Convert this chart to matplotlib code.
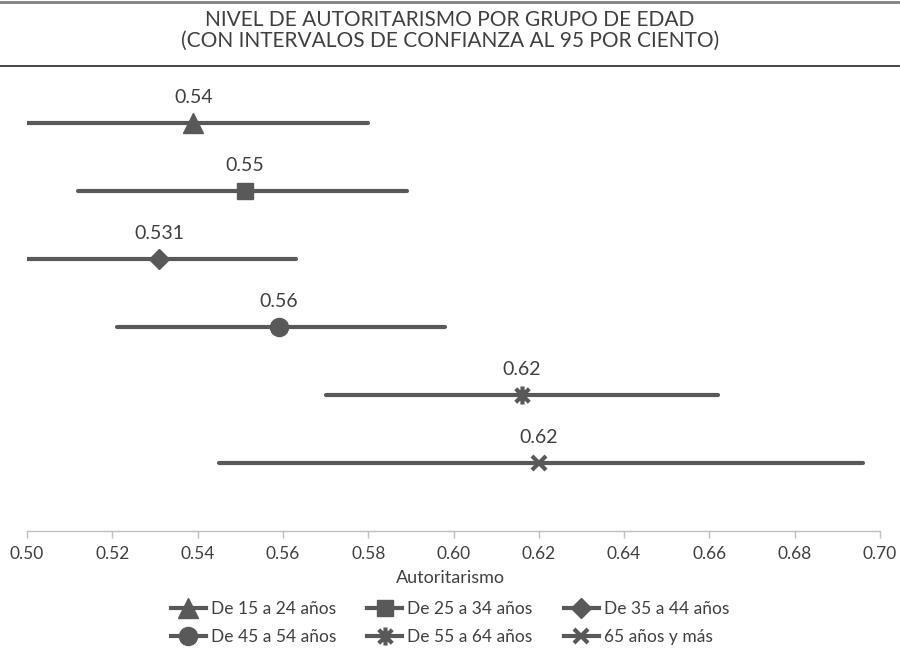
import matplotlib
matplotlib.use("Agg")
import matplotlib.pyplot as plt
from matplotlib.lines import Line2D
from matplotlib.path import Path

# Age groups, point estimates and 95% confidence bounds
groups = ["De 15 a 24 años", "De 25 a 34 años", "De 35 a 44 años",
          "De 45 a 54 años", "De 55 a 64 años", "65 años y más"]
means = [0.539, 0.551, 0.531, 0.559, 0.616, 0.620]
lower = [0.500, 0.512, 0.500, 0.521, 0.570, 0.545]
upper = [0.580, 0.589, 0.563, 0.598, 0.662, 0.696]
value_labels = ["0.54", "0.55", "0.531", "0.56", "0.62", "0.62"]
xticks = [0.50, 0.52, 0.54, 0.56, 0.58, 0.60, 0.62, 0.64, 0.66, 0.68, 0.70]
xtick_labels = ["0.50", "0.52", "0.54", "0.56", "0.58", "0.60",
                "0.62", "0.64", "0.66", "0.68", "0.70"]

# asterisk: vertical bar plus an X
asterisk = Path([(0, -1), (0, 1), (-0.75, -0.75), (0.75, 0.75),
                 (-0.75, 0.75), (0.75, -0.75)],
                [Path.MOVETO, Path.LINETO, Path.MOVETO, Path.LINETO,
                 Path.MOVETO, Path.LINETO])

marker_styles = [
    dict(marker="^", ms=14),
    dict(marker="s", ms=12),
    dict(marker="D", ms=10),
    dict(marker="o", ms=13),
    dict(marker=asterisk, ms=13, mew=3),
    dict(marker="x", ms=10, mew=3),
]

ink = "#595959"
text_col = "#404040"
body = ["Lato", "DejaVu Sans"]

W, H = 900, 652
fig = plt.figure(figsize=(W / 100, H / 100), dpi=100)
ax = fig.add_axes([27 / W, 1 - 531 / H, 853 / W, (531 - 66) / H])

n = len(groups)
rows = [n - i for i in range(n)]

for i in range(n):
    y = rows[i]
    ax.plot([lower[i], upper[i]], [y, y], color=ink, lw=3,
            solid_capstyle="round", zorder=2)
    st = dict(marker_styles[i])
    ax.plot([means[i]], [y], linestyle="none", color=ink, mfc=ink, mec=ink,
            zorder=3, **st)
    ax.text(means[i], y + 0.37, value_labels[i], ha="center", va="center",
            fontsize=14, color=text_col, family=body)

ax.set_xlim(0.50, 0.70)
ax.set_ylim(0, (531 - 66) / 68)
ax.set_yticks([])
ax.set_xticks(xticks)
ax.set_xticklabels(xtick_labels, family=body, fontsize=12.5, color=text_col)
ax.tick_params(axis="x", direction="out", length=5, width=1,
               color="#bfbfbf", pad=6)
for side in ("left", "right", "top"):
    ax.spines[side].set_visible(False)
ax.spines["bottom"].set_color("#bfbfbf")
ax.spines["bottom"].set_linewidth(1)

fig.text(0.5, 1 - 578 / H, "Autoritarismo", ha="center", va="center",
         fontsize=13, color=text_col, family=body)

# Title and horizontal rules
fig.text(0.5, 1 - 20 / H, "NIVEL DE AUTORITARISMO POR GRUPO DE EDAD",
         ha="center", va="center", fontsize=15, color=text_col, family=body)
fig.text(0.5, 1 - 41 / H, "(CON INTERVALOS DE CONFIANZA AL 95 POR CIENTO)",
         ha="center", va="center", fontsize=15, color=text_col, family=body)
fig.add_artist(Line2D([0, 1], [1 - 1.5 / H, 1 - 1.5 / H], color="#808080",
                      lw=2, transform=fig.transFigure))
fig.add_artist(Line2D([0, 1], [1 - 66 / H, 1 - 66 / H], color="#262626",
                      lw=1.2, transform=fig.transFigure))

handles = []
for i in range(n):
    st = dict(marker_styles[i])
    handles.append(Line2D([], [], color=ink, lw=3, mfc=ink, mec=ink, **st))
order = [0, 3, 1, 4, 2, 5]
fig.legend([handles[k] for k in order], [groups[k] for k in order],
           loc="center", bbox_to_anchor=(0.5, 1 - 623 / H), ncol=3,
           frameon=False, handlelength=2.0, handletextpad=0.3,
           columnspacing=1.8, labelspacing=0.7,
           prop=dict(family=body, size=12.5), labelcolor=text_col)

fig.savefig("out.png", dpi=100)
